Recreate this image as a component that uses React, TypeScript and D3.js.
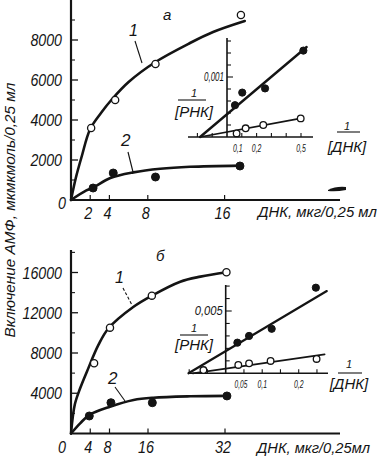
import React from "react";
import * as d3 from "d3";

// ---------- Panel а (top) ----------
const aXTicks = [2, 4, 8, 16];
const aYTicks = [2000, 4000, 6000, 8000];
const aYMinor = [1000, 3000, 5000, 7000, 9000];
const aOpenX = [2.1, 4.6, 8.8, 17.7];
const aOpenY = [3600, 5000, 6800, 9250];
const aFillX = [2.3, 4.4, 8.8, 17.6];
const aFillY = [600, 1350, 1150, 1700];
const aCurve1X = [0, 0.5, 1.1, 2, 3.2, 4.2, 6, 8.8, 12.4, 14.8, 18.1];
const aCurve1Y = [0, 1100, 2150, 3550, 4400, 5000, 5900, 6900, 7850, 8400, 8950];
const aCurve2X = [0, 1.6, 2.3, 4.1, 6.5, 9.3, 12.4, 17.6];
const aCurve2Y = [0, 480, 620, 1100, 1380, 1560, 1660, 1720];

// inset а
const aInsXTicks = [-0.2, -0.1, 0.1, 0.2, 0.3, 0.4, 0.5];
const aInsXLabels = [0.1, 0.2, 0.5];
const aInsYTicks = [0.0002, 0.0004, 0.0006, 0.0008, 0.001, 0.0012, 0.0014, 0.0016];
const aInsYLabels = [0.001];
const aInsFillX = [0.054, 0.103, 0.257, 0.516];
const aInsFillY = [0.00053, 0.00074, 0.00081, 0.00144];
const aInsOpenX = [0.065, 0.126, 0.245, 0.498];
const aInsOpenY = [0.00006, 0.000145, 0.0002, 0.00031];
const aInsFillLineX = [-0.182, 0.538];
const aInsFillLineY = [0, 0.0015];
const aInsOpenLineX = [-0.182, 0.498];
const aInsOpenLineY = [0, 0.00031];

// ---------- Panel б (bottom) ----------
const bXTicks = [4, 8, 16, 32];
const bYTicks = [4000, 8000, 12000, 16000];
const bYMinor = [2000, 6000, 10000, 14000, 18000];
const bOpenX = [4.8, 8.1, 16.8, 32.3];
const bOpenY = [6980, 10520, 13700, 16020];
const bFillX = [3.8, 8.3, 16.9, 32.4];
const bFillY = [1740, 3060, 3060, 3730];
const bCurve1X = [0, 0.8, 1.9, 3.3, 5.7, 7.8, 13, 16.8, 22.7, 26.9, 32.3];
const bCurve1Y = [0, 2900, 4490, 6140, 8800, 10460, 12600, 13700, 15090, 15590, 16020];
const bCurve2X = [0, 1.9, 3.8, 8.1, 13, 17.1, 24.8, 32.4];
const bCurve2Y = [0, 1010, 1840, 2660, 3330, 3560, 3700, 3740];

// inset б
const bInsXTicks = [-0.1, -0.05, 0.05, 0.1, 0.15, 0.2, 0.25];
const bInsXLabels = [0.05, 0.1, 0.2];
const bInsYTicks = [0.001, 0.002, 0.003, 0.004, 0.005, 0.006, 0.007];
const bInsYLabels = [0.005];
const bInsFillX = [0.032, 0.064, 0.126, 0.247];
const bInsFillY = [0.00246, 0.003, 0.00357, 0.00687];
const bInsOpenX = [-0.061, 0.0345, 0.064, 0.123, 0.249];
const bInsOpenY = [0.00026, 0.00067, 0.0008, 0.00099, 0.00115];
const bInsFillLineX = [-0.102, 0.277];
const bInsFillLineY = [0, 0.0066];
const bInsOpenLineX = [-0.09, 0.271];
const bInsOpenLineY = [0, 0.00152];

const INK = "#141414";
const FONT = "'Liberation Sans', Arial, sans-serif";

const fmt = (v: number) => String(v).replace(".", ",");

type Sc = d3.ScaleLinear<number, number>;

function zip(xs: number[], ys: number[]): [number, number][] {
  return xs.map((x, i) => [x, ys[i]]);
}

function Curve({ xs, ys, x, y, w = 2.6, curve = true }: { xs: number[]; ys: number[]; x: Sc; y: Sc; w?: number; curve?: boolean }) {
  const gen = d3
    .line<[number, number]>()
    .x((d) => x(d[0]))
    .y((d) => y(d[1]))
    .curve(curve ? d3.curveCatmullRom.alpha(0.5) : d3.curveLinear);
  return <path d={gen(zip(xs, ys)) || ""} fill="none" stroke={INK} strokeWidth={w} strokeLinecap="round" />;
}

function Dots({ xs, ys, x, y, open, r = 3.6 }: { xs: number[]; ys: number[]; x: Sc; y: Sc; open: boolean; r?: number }) {
  return (
    <g>
      {xs.map((v, i) => (
        <circle
          key={i}
          cx={x(v)}
          cy={y(ys[i])}
          r={r}
          fill={open ? "#fff" : INK}
          stroke={INK}
          strokeWidth={open ? 1.3 : 1}
        />
      ))}
    </g>
  );
}

function MainPanel(props: {
  x: Sc; y: Sc; xEnd: number; yTop: number;
  xTicks: number[]; yTicks: number[]; yMinor: number[];
  labelY: number; zeroY: number;
}) {
  const { x, y, xEnd, yTop, xTicks, yTicks, yMinor, labelY, zeroY } = props;
  const x0 = x(0), y0 = y(0);
  return (
    <g>
      <line x1={x0} y1={y0} x2={xEnd} y2={y0} stroke={INK} strokeWidth={2} />
      <line x1={x0} y1={y0} x2={x0} y2={yTop} stroke={INK} strokeWidth={2.2} />
      {yTicks.map((t) => (
        <g key={t}>
          <line x1={x0} x2={x0 + 7} y1={y(t)} y2={y(t)} stroke={INK} strokeWidth={1.3} />
          <text x={62} y={y(t) + 6} textAnchor="end" fontSize={17} fontStyle="italic" fontFamily={FONT} fill={INK}
            textLength={String(t).length * 7.9} lengthAdjust="spacingAndGlyphs">
            {t}
          </text>
        </g>
      ))}
      {yMinor.map((t) => (
        <line key={t} x1={x0} x2={x0 + 4} y1={y(t)} y2={y(t)} stroke={INK} strokeWidth={1.1} />
      ))}
      {xTicks.map((t) => (
        <g key={t}>
          <line x1={x(t)} x2={x(t)} y1={y0} y2={y0 - 5} stroke={INK} strokeWidth={1.2} />
          <text x={x(t) - 2} y={labelY} textAnchor="middle" fontSize={17} fontStyle="italic" fontFamily={FONT} fill={INK}
            textLength={String(t).length * 8} lengthAdjust="spacingAndGlyphs">
            {t}
          </text>
        </g>
      ))}
      <text x={62} y={zeroY} textAnchor="middle" fontSize={17} fontStyle="italic" fontFamily={FONT} fill={INK}
        textLength={8} lengthAdjust="spacingAndGlyphs">
        0
      </text>
    </g>
  );
}

function Inset(props: {
  x: Sc; y: Sc; xLeft: number; xRight: number; yTop: number;
  xTicks: number[]; xLabels: number[]; yTicks: number[]; yLabels: number[];
  xLabelY: number; yLabelW: number; shift: number;
}) {
  const { x, y, xLeft, xRight, yTop, xTicks, xLabels, yTicks, yLabels, xLabelY, yLabelW, shift } = props;
  const x0 = x(0), y0 = y(0);
  return (
    <g>
      <line x1={xLeft} y1={y0} x2={xRight} y2={y0} stroke={INK} strokeWidth={1.6} />
      <line x1={x0} y1={y0} x2={x0} y2={yTop} stroke={INK} strokeWidth={1.6} />
      {yTicks.map((t) => (
        <line key={t} x1={x0} x2={x0 + (yLabels.includes(t) ? 6 : 4)} y1={y(t)} y2={y(t)} stroke={INK} strokeWidth={1.1} />
      ))}
      {yLabels.map((t) => (
        <text key={t} x={x0 - 3} y={y(t) + 4} textAnchor="end" fontSize={12} fontStyle="italic" fontFamily={FONT} fill={INK}
          textLength={yLabelW} lengthAdjust="spacingAndGlyphs">
          {fmt(t)}
        </text>
      ))}
      {xTicks.map((t) => (
        <line key={t} x1={x(t)} x2={x(t)} y1={y0} y2={y0 - 4} stroke={INK} strokeWidth={1.1} />
      ))}
      {xLabels.map((t, i) => (
        <text key={t} x={x(t) + (i === 0 ? shift : 0)} y={xLabelY} textAnchor="middle" fontSize={11} fontStyle="italic" fontFamily={FONT} fill={INK}
          textLength={fmt(t).length * 3.2} lengthAdjust="spacingAndGlyphs">
          {fmt(t)}
        </text>
      ))}
    </g>
  );
}

function Frac({ cx, y1, lineY, y2, x1, x2, bottom }: { cx: number; y1: number; lineY: number; y2: number; x1: number; x2: number; bottom: string }) {
  return (
    <g fontFamily={FONT} fontStyle="italic" fill={INK}>
      <text x={cx} y={y1} textAnchor="middle" fontSize={11}>1</text>
      <line x1={x1} x2={x2} y1={lineY} y2={lineY} stroke={INK} strokeWidth={1.1} />
      <text x={cx} y={y2} textAnchor="middle" fontSize={15}>{bottom}</text>
    </g>
  );
}

export default function App() {
  // panel а scales
  const aX = d3.scaleLinear().domain([0, 16]).range([71, 224.6]);
  const aY = d3.scaleLinear().domain([0, 8000]).range([200, 40]);
  const aIX = d3.scaleLinear().domain([0, 0.5]).range([227, 301]);
  const aIY = d3.scaleLinear().domain([0, 0.001]).range([137, 77]);
  // panel б scales
  const bX = d3.scaleLinear().domain([0, 32]).range([71, 225]);
  const bY = d3.scaleLinear().domain([0, 16000]).range([433.5, 272.5]);
  const bIX = d3.scaleLinear().domain([0, 0.2]).range([225.7, 298.7]);
  const bIY = d3.scaleLinear().domain([0, 0.005]).range([373.3, 311]);

  const txt = { fontFamily: FONT, fontStyle: "italic" as const, fill: INK };

  return (
    <svg width={377} height={461} viewBox="0 0 377 461"
      style={{ position: "absolute", left: 0, top: 0, background: "#fff" }}>
      <rect x={0} y={0} width={377} height={461} fill="#fff" />

      {/* Y axis title */}
      <text transform="translate(15,210) rotate(-90)" textAnchor="middle" fontSize={15}
        textLength={255} lengthAdjust="spacingAndGlyphs" {...txt}>
        Включение АМФ, мкмкмоль/0,25 мл
      </text>

      {/* ---------- Panel а ---------- */}
      <MainPanel x={aX} y={aY} xEnd={340} yTop={0} xTicks={aXTicks} yTicks={aYTicks} yMinor={aYMinor}
        labelY={219} zeroY={209} />
      <Curve xs={aCurve1X} ys={aCurve1Y} x={aX} y={aY} />
      <Curve xs={aCurve2X} ys={aCurve2Y} x={aX} y={aY} />
      <Dots xs={aOpenX} ys={aOpenY} x={aX} y={aY} open={true} />
      <Dots xs={aFillX} ys={aFillY} x={aX} y={aY} open={false} r={4} />
      <text x={163} y={20} fontSize={15} {...txt}>а</text>
      <text x={129} y={36} fontSize={16} {...txt}>1</text>
      <line x1={135} y1={41} x2={142} y2={63} stroke={INK} strokeWidth={1.1} />
      <text x={121} y={146} fontSize={17} {...txt}>2</text>
      <line x1={128} y1={152} x2={133} y2={172} stroke={INK} strokeWidth={1.1} />
      <text x={258} y={217} fontSize={15} textLength={119} lengthAdjust="spacingAndGlyphs" {...txt}>
        ДНК, мкг/0,25 мл
      </text>
      <path d="M328,190 Q336,186 346,187 L346,190 Q336,192 328,191 Z" fill={INK} />

      <Inset x={aIX} y={aIY} xLeft={188} xRight={313} yTop={38}
        xTicks={aInsXTicks} xLabels={aInsXLabels} yTicks={aInsYTicks} yLabels={aInsYLabels}
        xLabelY={152} yLabelW={20} shift={-4} />
      <Curve xs={aInsFillLineX} ys={aInsFillLineY} x={aIX} y={aIY} w={2.4} curve={false} />
      <Curve xs={aInsOpenLineX} ys={aInsOpenLineY} x={aIX} y={aIY} w={1.7} curve={false} />
      <Dots xs={aInsFillX} ys={aInsFillY} x={aIX} y={aIY} open={false} r={3.6} />
      <Dots xs={aInsOpenX} ys={aInsOpenY} x={aIX} y={aIY} open={true} r={3.3} />
      <Frac cx={194} y1={97} lineY={100} y2={117} x1={178} x2={206} bottom="[РНК]" />
      <Frac cx={347} y1={130} lineY={132} y2={152} x1={337} x2={360} bottom="[ДНК]" />

      {/* ---------- Panel б ---------- */}
      <MainPanel x={bX} y={bY} xEnd={340} yTop={250} xTicks={bXTicks} yTicks={bYTicks} yMinor={bYMinor}
        labelY={453} zeroY={453} />
      <Curve xs={bCurve1X} ys={bCurve1Y} x={bX} y={bY} />
      <Curve xs={bCurve2X} ys={bCurve2Y} x={bX} y={bY} />
      <Dots xs={bOpenX} ys={bOpenY} x={bX} y={bY} open={true} />
      <Dots xs={bFillX} ys={bFillY} x={bX} y={bY} open={false} r={4} />
      <text x={156} y={261} fontSize={15} {...txt}>б</text>
      <text x={115} y={283} fontSize={16} {...txt}>1</text>
      <line x1={123} y1={288} x2={132} y2={305} stroke={INK} strokeWidth={1.1} strokeDasharray="3 2" />
      <text x={108} y={384} fontSize={17} {...txt}>2</text>
      <line x1={115} y1={387} x2={125} y2={401} stroke={INK} strokeWidth={1.1} />
      <text x={257} y={453} fontSize={15} textLength={113} lengthAdjust="spacingAndGlyphs" {...txt}>
        ДНК, мкг/0,25мл
      </text>

      <Inset x={bIX} y={bIY} xLeft={188} xRight={328} yTop={285}
        xTicks={bInsXTicks} xLabels={bInsXLabels} yTicks={bInsYTicks} yLabels={bInsYLabels}
        xLabelY={388} yLabelW={28} shift={-3} />
      <Curve xs={bInsFillLineX} ys={bInsFillLineY} x={bIX} y={bIY} w={2.2} curve={false} />
      <Curve xs={bInsOpenLineX} ys={bInsOpenLineY} x={bIX} y={bIY} w={1.7} curve={false} />
      <Dots xs={bInsFillX} ys={bInsFillY} x={bIX} y={bIY} open={false} r={3.6} />
      <Dots xs={bInsOpenX} ys={bInsOpenY} x={bIX} y={bIY} open={true} r={3.3} />
      <Frac cx={194} y1={332} lineY={335} y2={350} x1={180} x2={208} bottom="[РНК]" />
      <Frac cx={349} y1={368} lineY={373} y2={389} x1={338} x2={362} bottom="[ДНК]" />
    </svg>
  );
}
